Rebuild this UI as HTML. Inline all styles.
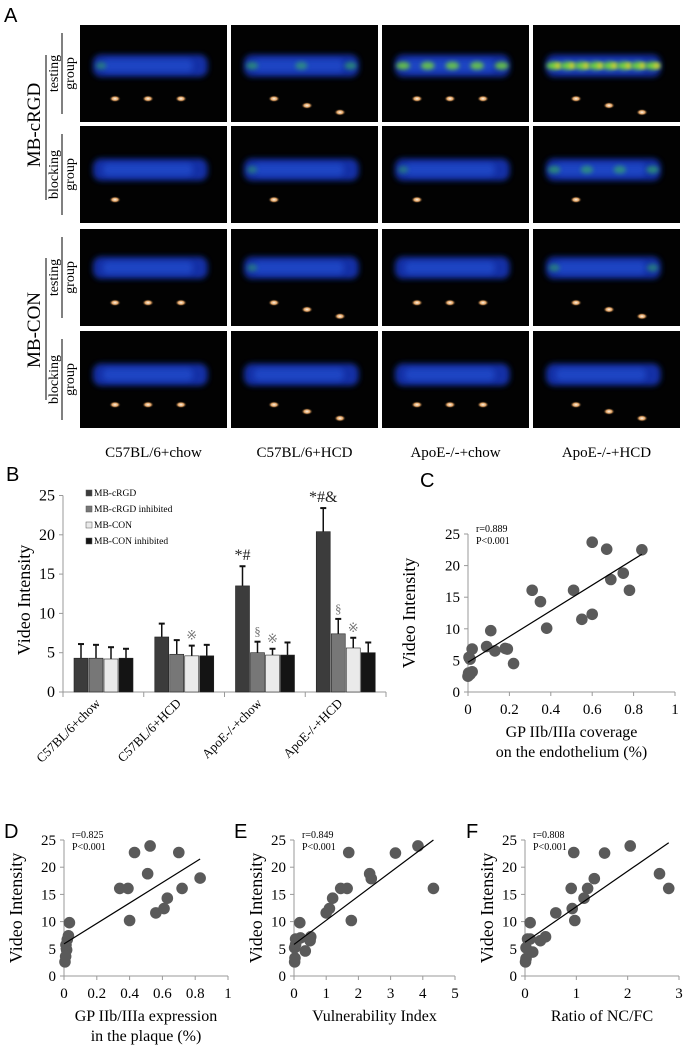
<!DOCTYPE html>
<html><head><meta charset="utf-8">
<style>
html,body{margin:0;padding:0;background:#fff;}
svg{display:block;font-family:"Liberation Serif",serif;}
.sans{font-family:"Liberation Sans",sans-serif;}
</style></head>
<body>
<svg id="fig" width="686" height="1051" viewBox="0 0 686 1051">
<defs>
<filter id="blur3" x="-20%" y="-50%" width="140%" height="200%"><feGaussianBlur stdDeviation="3"/></filter>
<filter id="blur2" x="-50%" y="-50%" width="200%" height="200%"><feGaussianBlur stdDeviation="2"/></filter>
<radialGradient id="spot" cx="50%" cy="50%" r="50%">
<stop offset="0" stop-color="#fff6e8"/><stop offset="0.5" stop-color="#e0a060"/><stop offset="1" stop-color="#000" stop-opacity="0"/>
</radialGradient>
</defs>
<text x="4" y="22" class="sans" font-size="20">A</text>
<g id="panelA"></g>
<text x="6" y="481" class="sans" font-size="20">B</text>
<g id="panelB"></g>
<text x="420" y="487" class="sans" font-size="20">C</text>
<g id="panelC"></g>
<text x="4" y="838" class="sans" font-size="20">D</text>
<g id="panelD"></g>
<text x="234" y="838" class="sans" font-size="20">E</text>
<g id="panelE"></g>
<text x="466" y="838" class="sans" font-size="20">F</text>
<g id="panelF"></g>
</svg>
<script>
// ---- Bar chart data (panel B) ----
const categories = ["C57BL/6+chow","C57BL/6+HCD","ApoE-/-+chow","ApoE-/-+HCD"];
const seriesNames = ["MB-cRGD","MB-cRGD inhibited","MB-CON","MB-CON inhibited"];
const cRGD = [4.3, 7.0, 13.5, 20.4];
const cRGDInhibited = [4.3, 4.8, 5.0, 7.4];
const CON = [4.2, 4.6, 4.7, 5.6];
const CONInhibited = [4.3, 4.6, 4.7, 5.0];
const cRGDErr = [1.8, 1.7, 2.5, 3.0];
const cRGDInhibitedErr = [1.7, 1.8, 1.4, 1.9];
const CONErr = [1.5, 1.3, 0.8, 1.3];
const CONInhibitedErr = [1.2, 1.4, 1.6, 1.3];
const barTicks = [0,5,10,15,20,25];
// ---- Scatter data ----
const cX = [0,0.003,0.01,0.02,0.005,0.01,0.02,0.09,0.11,0.13,0.18,0.19,0.22,0.31,0.35,0.38,0.51,0.55,0.6,0.6,0.67,0.69,0.75,0.78,0.84];
const cY = [2.5,3.0,2.8,3.2,5.5,5.2,6.8,7.2,9.7,6.5,6.9,6.8,4.5,16.1,14.3,10.1,16.1,11.5,12.3,23.7,22.6,17.8,18.8,16.1,22.5];
const cFit = [4.7, 21.8];
const dX = [0.006,0.01,0.016,0.012,0.02,0.027,0.033,0.34,0.39,0.4,0.43,0.51,0.525,0.56,0.61,0.63,0.7,0.72,0.83];
const dY = [2.6,3.6,4.8,5.7,6.7,7.4,9.8,16.1,16.1,10.2,22.7,18.8,23.9,11.6,12.4,14.3,22.7,16.1,18.0];
const dFit = [5.9, 21.5];
const eX = [0.02,0.03,0.02,0.05,0.05,0.18,0.2,0.35,0.5,0.52,1.0,1.1,1.2,1.45,1.65,1.7,1.78,2.35,2.4,3.15,3.85,4.33];
const eY = [2.6,3.3,5.2,5.8,6.8,9.8,7.0,4.6,6.5,7.2,11.6,12.4,14.3,16.1,16.1,22.7,10.2,18.8,17.9,22.6,23.9,16.1];
const eFit = [5.8, 25.0];
const fX = [0.01,0.02,0.02,0.05,0.1,0.1,0.15,0.3,0.4,0.6,0.9,0.92,0.95,0.97,1.15,1.22,1.35,1.55,2.05,2.62,2.8];
const fY = [2.6,3.2,5.2,6.8,9.8,6.8,4.4,6.5,7.2,11.6,16.1,12.4,22.7,10.2,14.3,16.1,17.9,22.6,23.9,18.8,16.1];
const fFit = [6.2, 24.5];
const yTicks = [0,5,10,15,20,25];
const cXTicks = [0,0.2,0.4,0.6,0.8,1];
const dXTicks = [0,0.2,0.4,0.6,0.8,1];
const eXTicks = [0,1,2,3,4,5];
const fXTicks = [0,1,2,3];

const NS="http://www.w3.org/2000/svg";
function mk(parent,tag,attrs,text){const e=document.createElementNS(NS,tag);for(const k in attrs)e.setAttribute(k,attrs[k]);if(text!==undefined)e.textContent=text;parent.appendChild(e);return e;}

// ---- Panel A ----
const A=document.getElementById('panelA');
const colX=[80,231,382,533], rowY=[25,126,229,331], cw=147, ch=97;
const intensity=[[0.2,0.5,0.9,1.3],[0,0.1,0.1,0.6],[0,0.1,0,0.3],[0,0,0,0]];
const bandY=[0.42,0.45,0.40,0.45];
for(let r=0;r<4;r++)for(let c=0;c<4;c++){
  const g=mk(A,'g',{});
  
  
  const x=colX[c],y=rowY[r];
  mk(g,'rect',{x:x,y:y,width:cw,height:ch,fill:'#020202'});
  const by=y+ch*bandY[r];
  const it=intensity[r][c];
  const bx=x+13, bw=cw*0.78;
  mk(g,'rect',{x:bx,y:by-11,width:bw,height:22,rx:8,fill:'#1236b8',filter:'url(#blur3)',opacity:0.9});
  mk(g,'rect',{x:bx+10,y:by-6,width:bw-25,height:12,rx:5,fill:'#2050d0',filter:'url(#blur3)',opacity:0.7});
  if(it>0){
    const n=Math.max(1,Math.round(it*6));
    for(let k=0;k<n;k++){const cx=bx+8+k*(bw-16)/Math.max(1,n-1||1);
      mk(g,'ellipse',{cx:cx,cy:by,rx:5+it*2,ry:4,fill:it>0.8?'#70d040':'#30a070',filter:'url(#blur2)',opacity:Math.min(1,0.5+it*0.4)});
      if(it>1) mk(g,'ellipse',{cx:cx+4,cy:by,rx:3,ry:2.5,fill:'#f0d030',filter:'url(#blur2)'});
    }
  }
  const n=(r==1?1:3);
  for(let k=0;k<n;k++) mk(g,'ellipse',{cx:x+35+k*33+(c%2)*8,cy:y+ch*(0.76+0.07*k*(c%2)),rx:6,ry:3.5,fill:'url(#spot)'});
}
[["MB-cRGD",125,55,200],["MB-CON",330,258,400]].forEach(([t,cy,l1,l2])=>{
  const e=mk(A,'text',{x:0,y:0,transform:`translate(40,${cy}) rotate(-90)`,'text-anchor':'middle','font-size':19},t);
  
  
  mk(A,'line',{x1:46,y1:l1,x2:46,y2:l2,stroke:'#000','stroke-width':1});
});
const sub=[["testing","group"],["blocking","group"],["testing","group"],["blocking","group"]];
for(let r=0;r<4;r++){const cy=rowY[r]+ch/2;
  const t=mk(A,'text',{transform:`translate(0,${cy}) rotate(-90)`,'text-anchor':'middle','font-size':14});
  
  
  mk(t,'tspan',{x:0,y:58},sub[r][0]);mk(t,'tspan',{x:0,y:74},sub[r][1]);
  mk(A,'line',{x1:62,y1:rowY[r]+8,x2:62,y2:rowY[r]+ch-8,stroke:'#000','stroke-width':1});
}
categories.forEach((c,i)=>{const e=mk(A,'text',{x:colX[i]+cw/2,y:457,'text-anchor':'middle','font-size':15},c);
  
  });

// ---- Panel B ----
const B=document.getElementById('panelB');
const bx0=63,bx1=386,by0=692,bpx=39.3/5;
const yB=v=>by0-v*bpx;
mk(B,'line',{x1:bx0,y1:yB(25),x2:bx0,y2:by0,stroke:'#999'});
mk(B,'line',{x1:bx0,y1:by0,x2:bx1,y2:by0,stroke:'#999'});
barTicks.forEach(t=>{mk(B,'line',{x1:bx0-4,y1:yB(t),x2:bx0,y2:yB(t),stroke:'#999'});
  const e=mk(B,'text',{x:bx0-8,y:yB(t)+5,'text-anchor':'end','font-size':16},t);
  
  });
for(let i=0;i<=4;i++)mk(B,'line',{x1:bx0+i*80.75,y1:by0,x2:bx0+i*80.75,y2:by0+5,stroke:'#999'});
const yl=mk(B,'text',{transform:`translate(30,600) rotate(-90)`,'text-anchor':'middle','font-size':18},'Video Intensity');


const series=[cRGD,cRGDInhibited,CON,CONInhibited], errs=[cRGDErr,cRGDInhibitedErr,CONErr,CONInhibitedErr];
const fills=['#3c3c3c','#777','#eaeaea','#141414'];
categories.forEach((c,i)=>{
  series.forEach((s,j)=>{
    const x=bx0+i*80.75+11+j*15, top=yB(s[i]), et=yB(s[i]+errs[j][i]);
    mk(B,'line',{x1:x+7,y1:top,x2:x+7,y2:et,stroke:'#111','stroke-width':1.5});
    mk(B,'line',{x1:x+4,y1:et,x2:x+10,y2:et,stroke:'#111','stroke-width':2});
    const r=mk(B,'rect',{x:x,y:top,width:14,height:by0-top,fill:fills[j],stroke:'#222','stroke-width':0.6});
    
    
  });
  const lx=bx0+i*80.75+38, ly=by0+12;
  const e=mk(B,'text',{transform:`translate(${lx},${ly}) rotate(-45)`,'text-anchor':'end','font-size':13},c);
  
  
});
function ann(i,j,txt,fs){const x=bx0+i*80.75+11+j*15+7;const y=yB(series[j][i]+errs[j][i])-6;mk(B,'text',{x:x,y:y,'text-anchor':'middle','font-size':fs,fill:j==0?'#222':'#777'},txt);}
ann(2,0,'*#',16);ann(3,0,'*#&',16);ann(2,1,'§',13);ann(3,1,'§',13);ann(1,2,'※',13);ann(2,2,'※',13);ann(3,2,'※',13);
seriesNames.forEach((n,j)=>{const y=496+j*16;
  mk(B,'rect',{x:86,y:y-6,width:6,height:6,fill:fills[j],stroke:'#555','stroke-width':0.5});
  const e=mk(B,'text',{x:94,y:y,'font-size':9.5},n);
  
  });

// ---- Scatter panels ----
function scatter(id,xs,ys,fit,xt,ox,oy,xEnd,y25,titleLines,rtxt,ylx){
  const G=document.getElementById(id);
  const xmax=xt[xt.length-1];
  const X=v=>ox+v/xmax*(xEnd-ox), Y=v=>oy-v/25*(oy-y25);
  mk(G,'line',{x1:ox,y1:y25,x2:ox,y2:oy,stroke:'#999'});
  mk(G,'line',{x1:ox,y1:oy,x2:X(xmax),y2:oy,stroke:'#999'});
  yTicks.forEach(t=>{mk(G,'line',{x1:ox-4,y1:Y(t),x2:ox,y2:Y(t),stroke:'#999'});
    const e=mk(G,'text',{x:ox-8,y:Y(t)+5,'text-anchor':'end','font-size':15},t);
    
    });
  xt.forEach(t=>{mk(G,'line',{x1:X(t),y1:oy,x2:X(t),y2:oy+4,stroke:'#999'});
    const e=mk(G,'text',{x:X(t),y:oy+22,'text-anchor':'middle','font-size':15},t);
    
    });
  xs.forEach((v,k)=>{const c=mk(G,'circle',{cx:X(v),cy:Y(ys[k]),r:5.8,fill:'#5a5a5a'});
    
    });
  const xf=Math.max(...xs);
  const fl=mk(G,'line',{x1:X(0),y1:Y(fit[0]),x2:X(xf),y2:Y(fit[1]),stroke:'#000','stroke-width':1.2});
  
  
  const yt=mk(G,'text',{transform:`translate(${ylx},${(oy+y25)/2}) rotate(-90)`,'text-anchor':'middle','font-size':18},'Video Intensity');
  
  
  titleLines.forEach((l,k)=>{const e=mk(G,'text',{x:(ox+X(xmax))/2,y:oy+45+k*20,'text-anchor':'middle','font-size':16},l);
    
    });
  const r1=mk(G,'text',{x:ox+8,y:y25-2,'font-size':10},rtxt);
  
  
  const p1=mk(G,'text',{x:ox+8,y:y25+10,'font-size':10},'P<0.001');
  
  
}
scatter('panelC',cX,cY,cFit,cXTicks,468,692,675,534,['GP IIb/IIIa coverage','on the endothelium (%)'],'r=0.889',415);
scatter('panelD',dX,dY,dFit,dXTicks,64,976,228,840,['GP IIb/IIIa expression','in the plaque (%)'],'r=0.825',22);
scatter('panelE',eX,eY,eFit,eXTicks,294,976,455,840,['Vulnerability  Index'],'r=0.849',262);
scatter('panelF',fX,fY,fFit,fXTicks,525,976,679,840,['Ratio of NC/FC'],'r=0.808',493);
</script>
</body></html>
